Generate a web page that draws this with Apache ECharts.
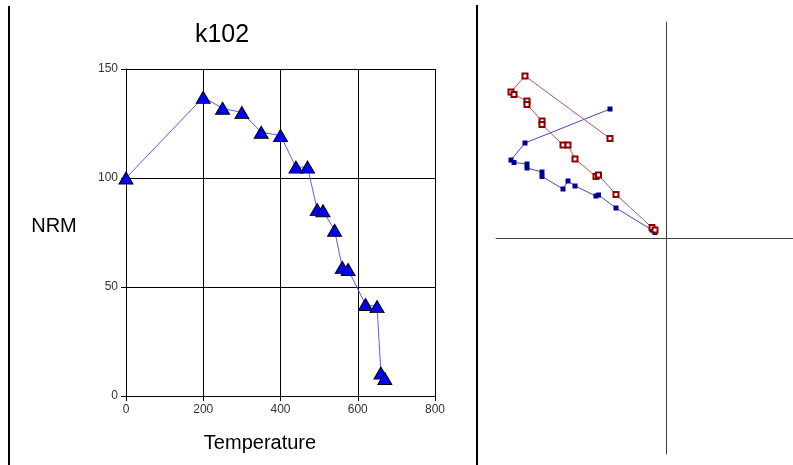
<!DOCTYPE html>
<html lang="en" style="height: 100%">
<head>
    <meta charset="utf-8">
</head>
<body style="height: 100%; margin: 0; background: #fff">
<div id="container" style="width: 793px; height: 465px"></div>

<script type="text/javascript" src="https://cdn.jsdelivr.net/npm/echarts@6/dist/echarts.min.js"></script>
<script type="text/javascript">
    // demagnetisation curve (left panel)
    var temps = [0, 200, 250, 300, 350, 400, 440, 470, 495, 510, 540, 560, 575, 620, 650, 660, 670];
    var nrm = [100, 137, 132, 130, 121, 119.5, 105, 105, 85.5, 85, 76, 59, 58, 42, 41, 10.5, 8];

    // orthogonal projection (right panel), same x for both projections
    var projX = [-56, -141, -155, -152, -139, -139, -124, -124, -103, -98, -91, -70, -67.5, -50, -14, -11];
    var projHoriz = [129, 95, 78, 75.5, 74, 70, 66, 61.5, 49, 57, 52, 42, 43, 30, 8, 5.5];
    var projVert = [99.5, 162, 146, 143.5, 137, 133.5, 117, 113.5, 93, 93, 79, 61.5, 63, 43.5, 10.5, 8];

    var dom = document.getElementById('container');
    var myChart = echarts.init(dom, null, {renderer: 'canvas'});

    function pairs(xs, ys) {
        return xs.map(function (x, i) { return [x, ys[i]]; });
    }

    var labelFont = 'Liberation Sans, Arial, sans-serif';

    var option = {
        animation: false,
        backgroundColor: '#fff',
        grid: [
            {left: 126, right: 358, top: 69, bottom: 69},
            {left: 496, right: 0, top: 22, bottom: 11}
        ],
        xAxis: [
            {
                type: 'value', gridIndex: 0, min: 0, max: 800, interval: 200,
                axisLine: {lineStyle: {color: '#000', width: 1}},
                axisTick: {show: true, length: 5, lineStyle: {color: '#000'}},
                axisLabel: {color: '#333', fontSize: 12, fontFamily: labelFont, margin: 8},
                splitLine: {show: true, lineStyle: {color: '#000', width: 1}}
            },
            {
                type: 'value', gridIndex: 1, min: -170, max: 127,
                axisLine: {onZero: true, lineStyle: {color: '#444', width: 1}},
                axisTick: {show: false},
                axisLabel: {show: false},
                splitLine: {show: false}
            }
        ],
        yAxis: [
            {
                type: 'value', gridIndex: 0, min: 0, max: 150, interval: 50,
                axisLine: {show: true, lineStyle: {color: '#000', width: 1}},
                axisTick: {show: true, length: 5, lineStyle: {color: '#000'}},
                axisLabel: {color: '#333', fontSize: 12, fontFamily: labelFont, margin: 8},
                splitLine: {show: true, lineStyle: {color: '#000', width: 1}}
            },
            {
                type: 'value', gridIndex: 1, min: -216, max: 216,
                axisLine: {onZero: true, lineStyle: {color: '#444', width: 1}},
                axisTick: {show: false},
                axisLabel: {show: false},
                splitLine: {show: false}
            }
        ],
        graphic: [
            {type: 'line', shape: {x1: 9, y1: 6, x2: 9, y2: 465}, style: {stroke: '#000', lineWidth: 2}},
            {type: 'line', shape: {x1: 477, y1: 5, x2: 477, y2: 465}, style: {stroke: '#000', lineWidth: 2}},
            {type: 'text', x: 222, y: 35, style: {text: 'k102', font: '25px ' + labelFont, fill: '#000', textAlign: 'center', textVerticalAlign: 'middle'}},
            {type: 'text', x: 54, y: 226, style: {text: 'NRM', font: '20px ' + labelFont, fill: '#000', textAlign: 'center', textVerticalAlign: 'middle'}},
            {type: 'text', x: 260, y: 443, style: {text: 'Temperature', font: '20px ' + labelFont, fill: '#000', textAlign: 'center', textVerticalAlign: 'middle'}}
        ],
        series: [
            {
                type: 'line',
                xAxisIndex: 0, yAxisIndex: 0,
                data: pairs(temps, nrm),
                symbol: 'triangle',
                symbolSize: [14, 12],
                itemStyle: {color: '#0000ff', borderColor: '#000', borderWidth: 1},
                lineStyle: {color: '#5a5aff', width: 1}
            },
            {
                type: 'line',
                xAxisIndex: 1, yAxisIndex: 1,
                data: pairs(projX, projHoriz),
                symbol: 'rect',
                symbolSize: 5,
                itemStyle: {color: '#00008f'},
                lineStyle: {color: '#4848b8', width: 1}
            },
            {
                type: 'line',
                xAxisIndex: 1, yAxisIndex: 1,
                data: pairs(projX, projVert),
                symbol: 'emptyRect',
                symbolSize: 5,
                itemStyle: {color: '#8f0000', borderWidth: 1},
                lineStyle: {color: '#b05858', width: 1}
            }
        ]
    };

    myChart.setOption(option);
    window.addEventListener('resize', myChart.resize);
</script>
</body>
</html>
